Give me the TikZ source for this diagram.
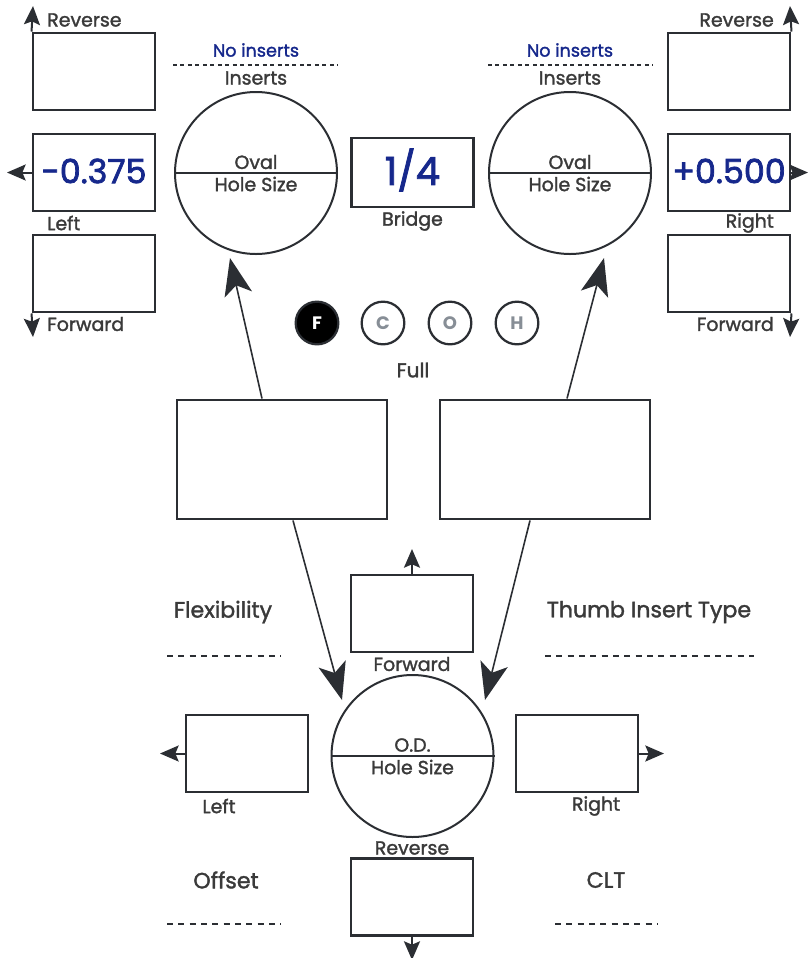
\documentclass[tikz,border=0pt]{standalone}
\usepackage{fontspec}
\setmainfont{Poppins}
\newfontfamily\medfont{Poppins}[FakeBold=1.6]
\newfontfamily\numfont{Poppins}[FakeBold=2.2]
\usetikzlibrary{arrows.meta,calc}
\definecolor{ink}{RGB}{43,46,51}
\definecolor{txt}{RGB}{58,58,58}
\definecolor{navy}{RGB}{22,40,140}
\definecolor{lgray}{RGB}{135,142,150}
\tikzset{
  box/.style={draw=ink,line width=2.2pt,minimum width=91.5pt,minimum height=57.75pt,inner sep=0pt},
  bigbox/.style={draw=ink,line width=2.2pt,minimum width=157.5pt,minimum height=89.25pt,inner sep=0pt},
  hole/.style={draw=ink,circle,line width=1.5pt,minimum size=121.5pt,inner sep=0pt},
  dot/.style={draw=ink,circle,line width=1.7pt,minimum size=32pt,inner sep=0pt,font=\fontsize{13.5}{13.5}\selectfont\bfseries,text=lgray},
  lbl/.style={text=txt,font=\medfont\fontsize{14.2}{15}\selectfont,inner sep=0pt},
  side/.style={text=txt,font=\medfont\fontsize{16.6}{17}\selectfont,inner sep=0pt},
  blbl/.style={text=navy,font=\medfont\fontsize{13.2}{14}\selectfont,inner sep=0pt},
  num/.style={text=navy,font=\numfont\fontsize{25}{26}\selectfont},
  sarrow/.style={draw=ink,line width=1.5pt,-{Stealth[length=14pt,width=12pt,inset=2.5pt]}},
  barrow/.style={draw=ink,line width=1.2pt,-{Stealth[length=28pt,width=21pt,inset=7pt]}},
  sep/.style={draw=ink,line width=2pt,dash pattern=on 3pt off 2.6pt},
  sep2/.style={draw=ink,line width=2pt,dash pattern=on 4.5pt off 4pt},
  divider/.style={draw=ink,line width=1.5pt}
}
\begin{document}
\begin{tikzpicture}[x=0.75pt,y=-0.75pt]
\useasboundingbox (0,0) rectangle (808,958);
% left column
\node[box] (lt) at (94,71.5) {};
\node[box] (lm) at (94,172.5) {};
\node[box] (lb) at (94,273.5) {};
\node[num,anchor=center] (lnum) at (94,171) {-0.375};
\coordinate (ltup) at (33,6);
\coordinate (lmleft) at (7,172.5);
\coordinate (lbdown) at (33,337);
\draw[sarrow] (lt.north west) -- (ltup);
\draw[sarrow] (lm.west) -- (lmleft);
\draw[sarrow] (lb.south west) -- (lbdown);
\node[lbl,anchor=west] (lrev) at (47,20) {Reverse};
\node[lbl,anchor=west] (lleft) at (47,223) {Left};
\node[lbl,anchor=west] (lfwd) at (47,324) {Forward};
% right column
\node[box] (rt) at (729,71.5) {};
\node[box] (rm) at (729,172.5) {};
\node[box] (rb) at (729,273.5) {};
\node[num,anchor=center] (rnum) at (729,171) {+0.500};
\coordinate (rtup) at (790,6);
\coordinate (rmright) at (808,172.5);
\coordinate (rbdown) at (790,337);
\draw[sarrow] (rt.north east) -- (rtup);
\draw[sarrow] (rm.east) -- (rmright);
\draw[sarrow] (rb.south east) -- (rbdown);
\node[lbl,anchor=east] (rrev) at (774,20) {Reverse};
\node[lbl,anchor=east] (rright) at (774,223) {Right};
\node[lbl,anchor=east] (rfwd) at (774,324) {Forward};
% top circles
\node[hole] (c1) at (256,173) {};
\draw[divider] (c1.west) -- (c1.east);
\node[lbl] (c1a) at (256,162) {Oval};
\node[lbl] (c1b) at (256,184) {Hole Size};
\node[hole] (c2) at (570,173) {};
\draw[divider] (c2.west) -- (c2.east);
\node[lbl] (c2a) at (570,162) {Oval};
\node[lbl] (c2b) at (570,184) {Hole Size};
\node[blbl] (ni1) at (256,50) {No inserts};
\node[lbl] (in1) at (256,78) {Inserts};
\coordinate (d1a) at (173,65); \coordinate (d1b) at (338,65);
\draw[sep] (d1a) -- (d1b);
\node[blbl] (ni2) at (570,50) {No inserts};
\node[lbl] (in2) at (570,78) {Inserts};
\coordinate (d2a) at (488,65); \coordinate (d2b) at (653,65);
\draw[sep] (d2a) -- (d2b);
% bridge
\node[box,minimum height=51.75pt] (br) at (412.5,172.5) {};
\node[num,font=\numfont\fontsize{29}{30}\selectfont] (brn) at (412.5,170) {1/4};
\node[lbl] (brl) at (412.5,221) {Bridge};
% dots
\node[dot,fill=black,text=white] (df) at (317,323) {F};
\node[dot] (dc) at (383,323) {C};
\node[dot] (do) at (450,323) {O};
\node[dot] (dh) at (517,323) {H};
\node[lbl,font=\medfont\fontsize{15}{15}\selectfont] (full) at (413,370) {Full};
% middle boxes
\node[bigbox] (m1) at (282,459.5) {};
\node[bigbox] (m2) at (545,459.5) {};
\draw[barrow] ($(m1.north)+(-20,0)$) -- (230,258);
\draw[barrow] ($(m2.north)+(22,0)$) -- (604,258);
% OD circle
\node[hole] (c3) at (412.5,756) {};
\draw[divider] (c3.west) -- (c3.east);
\node[lbl] (c3a) at (412.5,745) {O.D.};
\node[lbl] (c3b) at (412.5,767) {Hole Size};
\draw[barrow] ($(m1.south)+(11,0)$) -- (342,700);
\draw[barrow] ($(m2.south)+(-15,0)$) -- (485,700);
% OD boxes
\node[box] (ot) at (412,613.5) {};
\node[box] (ol) at (247,753.5) {};
\node[box] (or) at (577,753.5) {};
\node[box] (ob) at (412,897) {};
\coordinate (otup) at (412,549);
\coordinate (olleft) at (160,753.5);
\coordinate (orright) at (664,753.5);
\coordinate (obdown) at (412,960);
\draw[sarrow] (ot.north) -- (otup);
\draw[sarrow] (ol.west) -- (olleft);
\draw[sarrow] (or.east) -- (orright);
\draw[sarrow] (ob.south) -- (obdown);
\node[lbl] (otl) at (412,664) {Forward};
\node[lbl] (oll) at (219,806) {Left};
\node[lbl] (orl) at (596,806) {Right};
\node[lbl] (obl) at (412,848) {Reverse};
% side labels
\node[side] (flex) at (223,612) {Flexibility};
\coordinate (f1) at (167,656); \coordinate (f2) at (281,656);
\draw[sep2] (f1) -- (f2);
\node[side] (thumb) at (649,612) {Thumb Insert Type};
\coordinate (t1) at (545,656); \coordinate (t2) at (754,656);
\draw[sep2] (t1) -- (t2);
\node[side] (off) at (226,880) {Offset};
\coordinate (o1) at (167,924); \coordinate (o2) at (281,924);
\draw[sep2] (o1) -- (o2);
\node[side] (clt) at (606,880) {CLT};
\coordinate (l1) at (555,924); \coordinate (l2) at (658,924);
\draw[sep2] (l1) -- (l2);
\end{tikzpicture}
\end{document}
